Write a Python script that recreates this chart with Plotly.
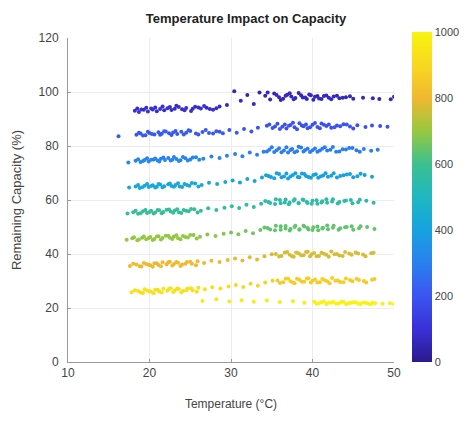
import plotly.graph_objects as go

# ---- data ----
# band A (~100 cycles)
tA = [18.2,18.7,19.3,19.8,20.4,20.9,21.3,21.8,22.2,22.7,23.1,23.6,24.0,24.5,25.1,25.6,26.3,27.0,27.8,28.6,
      29.5,30.4,31.2,32.0,32.8,33.5,34.2,34.8,35.3,35.9,36.4,36.9,37.4,37.9,38.3,38.8,39.3,39.8,40.3,40.8,
      41.4,42.0,42.6,43.3,44.1,45.0,46.2,49.6,50.0]
cA = [93.1,92.6,93.4,92.8,93.5,92.9,93.7,93.2,94.0,93.3,93.8,94.4,93.6,94.1,93.0,94.5,93.9,94.2,93.4,94.6,
      95.2,100.3,96.8,98.9,95.6,99.8,98.6,97.2,99.4,98.1,97.5,99.0,98.3,97.8,99.6,98.0,97.4,98.8,98.2,97.6,
      98.5,97.9,98.3,97.7,98.1,97.5,97.9,97.3,98.2]
nA = [85,95,80,100,90,85,95,80,100,90,85,95,80,100,90,85,95,80,90,85,
      70,60,75,55,70,50,
      60,70,55,65,60,70,55,65,60,70,55,65,60,70,55,65,60,70,55,65,60,70,60]
tA2 = [18.5,19.0,19.6,20.2,20.7,21.6,22.5,23.3,24.3,25.3,26.0,26.7,27.4,28.2,
       34.5,35.6,36.1,36.7,37.2,37.7,38.6,39.1,39.6,40.1,40.6,41.1,41.7,42.3,43.0,43.7,44.6,47.4,48.2]
cA2 = [93.9,93.5,94.2,93.9,94.3,94.6,94.4,94.9,93.2,93.8,94.3,94.8,93.7,94.0,
       99.8,98.9,97.0,98.6,99.5,97.3,98.8,98.0,99.1,97.1,98.5,97.4,98.7,97.3,98.6,97.9,98.4,97.7,97.4]
nA2 = [85,95,80,100,90,85,95,80,100,90,85,95,80,90,
       60,70,55,65,60,70,55,65,60,70,55,65,60,70,55,65,60,70,60]

# band B (~200 cycles)
tB = [16.2,18.4,18.9,19.5,20.0,20.6,21.1,21.5,22.0,22.4,22.9,23.4,23.9,24.5,25.0,25.7,26.5,27.3,28.2,29.0,
      29.8,30.7,31.6,32.5,33.3,34.4,35.1,35.7,36.3,36.8,37.3,37.8,38.4,38.9,39.4,40.0,40.6,41.1,41.7,42.3,
      43.0,43.8,44.6,45.5,46.5,48.3,49.2]
cB = [83.6,84.2,84.6,84.0,84.8,84.3,85.1,84.5,85.4,84.7,85.0,84.4,85.3,84.9,85.6,84.6,85.2,84.8,85.5,84.7,
      85.9,84.9,86.3,85.4,86.8,87.5,86.7,88.2,87.1,86.5,87.8,86.9,88.4,87.3,86.6,87.9,87.0,88.3,87.4,86.8,
      87.6,88.1,87.2,87.7,87.0,87.4,87.1]
nB = [215,205,220,200,215,210,225,205,215,200,220,210,215,205,220,210,215,205,220,210,
      205,210,200,205,195,
      190,200,185,195,190,200,185,195,190,200,185,195,190,200,185,195,190,200,185,195,190,200]
tB2 = [18.7,19.2,19.8,20.3,21.3,21.8,22.7,23.2,24.2,24.8,26.0,26.9,27.8,28.6,
       34.7,35.4,36.0,36.6,37.1,37.6,38.1,38.7,39.2,39.7,40.3,40.9,41.4,42.0,42.7,43.4,44.2,45.0,47.3]
cB2 = [84.9,83.9,85.3,84.4,84.2,85.5,84.1,85.6,84.3,85.8,84.3,85.9,84.6,85.3,
       88.0,87.2,86.3,88.0,87.5,88.6,86.2,87.6,88.0,86.9,88.5,86.6,87.9,88.0,86.9,87.3,88.0,86.5,87.6]
nB2 = [210,220,205,215,210,225,205,215,210,220,205,215,210,205,
       195,185,200,190,195,185,200,190,195,185,200,190,195,185,200,190,195,185,190]

# band C (~300 cycles)
tC = [17.4,18.3,18.9,19.4,19.9,20.5,21.0,21.4,21.9,22.3,22.8,23.3,23.8,24.4,25.0,25.7,26.6,27.6,28.6,29.5,
      30.5,31.4,32.3,33.2,34.0,34.7,35.3,35.9,36.5,37.0,37.5,38.1,38.6,39.1,39.7,40.3,40.9,41.5,42.2,42.9,
      43.7,44.5,45.4,46.3,47.2,48.0]
cC = [73.9,74.5,74.1,74.8,74.3,75.0,74.6,75.3,74.8,75.6,74.9,75.2,74.7,75.5,75.0,75.8,75.3,76.1,75.6,76.4,
      77.0,76.2,77.6,76.8,77.9,78.6,77.8,79.2,78.3,77.6,78.9,78.1,79.4,78.5,77.8,79.1,78.3,79.5,78.6,77.9,
      78.8,79.3,78.4,78.9,78.2,78.6]
nC = [320,310,325,305,320,310,330,305,320,310,325,305,320,310,325,315,320,310,320,315,
      305,310,300,305,300,
      295,285,300,290,295,285,300,290,295,285,300,290,295,285,300,290,295,285,300,290,295]
tC2 = [18.6,19.2,19.7,20.2,20.7,21.2,21.7,22.6,23.0,23.6,24.1,24.7,25.3,26.1,
       34.4,35.0,35.6,36.2,36.8,37.3,37.8,38.3,38.9,39.4,40.0,40.6,41.2,41.8,42.5,43.3,44.1,44.9,45.8]
cC2 = [75.1,74.4,75.5,74.9,75.4,74.3,75.7,74.6,75.9,74.4,75.9,74.6,75.7,74.9,
       78.0,79.5,78.4,77.7,79.5,78.5,77.7,79.7,78.0,79.0,78.4,77.9,79.0,78.3,79.6,78.0,78.7,79.3,77.9]
nC2 = [315,325,310,320,315,330,310,320,315,325,310,320,315,320,
       295,285,300,290,295,285,300,290,295,285,300,290,295,285,300,290,295,285,290]

# band D (~420 cycles)
tD = [17.5,18.3,18.8,19.4,19.9,20.4,20.9,21.3,21.8,22.3,22.7,23.2,23.7,24.3,24.9,25.6,26.4,27.3,28.3,29.3,
      30.2,31.1,32.0,32.9,33.8,34.6,35.3,35.9,36.5,37.0,37.6,38.2,38.7,39.2,39.8,40.4,41.0,41.6,42.3,43.0,
      43.8,44.6,45.5,46.4,47.3]
cD = [64.6,65.0,64.4,65.3,64.8,65.5,64.9,65.7,65.1,65.8,65.2,65.6,65.0,65.9,65.3,66.1,65.6,66.4,65.9,66.7,
      67.2,66.5,67.8,67.0,68.3,68.9,68.1,69.6,68.7,68.0,69.3,68.5,69.8,68.9,68.2,69.5,68.7,69.9,69.0,68.3,
      69.2,69.6,68.8,69.3,68.6]
nD = [430,420,435,415,430,420,440,415,430,420,435,415,430,420,435,425,430,420,430,425,
      415,420,410,415,405,
      400,410,395,405,400,410,395,405,400,410,395,405,400,410,395,405,400,410,395,405]
tD2 = [18.6,19.1,19.7,20.2,20.7,21.1,21.6,22.5,23.0,23.5,24.0,24.6,25.2,26.0,
       34.3,34.9,35.6,36.2,36.8,37.3,37.9,38.4,39.0,39.5,40.1,40.7,41.3,41.9,42.6,43.4,44.2,45.0,45.9]
cD2 = [65.6,64.7,65.9,65.2,64.6,65.9,64.7,66.1,64.9,66.2,64.8,65.6,66.3,65.0,
       69.2,68.5,69.9,68.4,69.8,68.7,69.9,68.4,69.6,68.5,69.3,68.2,69.1,68.6,69.9,68.9,69.4,68.4,69.7]
nD2 = [425,435,420,430,425,440,420,430,425,435,420,430,425,430,
       405,395,410,400,405,395,410,400,405,395,410,400,405,395,410,400,405,395,400]

# band E (~560 cycles)
tE = [17.3,18.0,18.6,19.2,19.7,20.2,20.7,21.2,21.7,22.1,22.6,23.1,23.6,24.2,24.8,25.5,26.3,27.2,28.2,29.2,
      30.1,31.0,31.9,32.8,33.7,34.6,35.4,36.0,36.6,37.1,37.7,38.3,38.8,39.3,39.9,40.5,41.1,41.7,42.4,43.1,
      43.9,44.7,45.6,46.6,47.5]
cE = [55.0,55.5,54.9,55.8,55.2,56.0,55.4,56.2,55.6,56.4,55.7,56.1,55.5,56.3,55.8,56.6,56.0,56.9,56.3,57.1,
      57.7,57.0,58.2,57.4,58.6,59.3,58.5,60.0,59.1,58.4,59.7,58.9,60.2,59.3,58.6,59.9,59.1,60.3,59.4,58.7,
      59.6,60.0,59.2,59.7,59.0]
nE = [580,570,585,565,580,570,590,565,580,570,585,565,580,570,585,575,580,570,575,570,
      565,570,560,565,555,
      545,555,540,550,545,555,540,550,545,555,540,550,545,555,540,550,545,555,540,550]
tE2 = [18.3,18.9,19.5,20.0,20.5,21.0,21.5,22.4,22.9,23.4,23.9,24.5,25.1,25.9,
       34.2,34.8,35.5,36.1,36.7,37.2,37.8,38.3,38.9,39.4,40.0,40.6,41.2,41.8,42.5,43.3,44.1,44.9,45.8]
cE2 = [56.0,55.1,56.3,55.6,55.0,56.3,55.1,56.5,55.3,56.6,55.2,56.0,56.7,55.4,
       59.6,58.9,60.3,58.8,60.2,59.1,60.3,58.8,60.0,58.9,59.7,58.6,59.5,59.0,60.3,59.3,59.8,58.8,60.1]
nE2 = [575,585,570,580,575,590,570,580,575,585,570,580,575,580,
       555,545,560,550,555,545,560,550,555,545,560,550,555,545,560,550,555,545,550]

# band F (~680 cycles)
tF = [17.2,17.9,18.5,19.1,19.6,20.1,20.6,21.1,21.6,22.0,22.5,23.0,23.5,24.1,24.7,25.4,26.2,27.1,28.1,29.1,
      30.0,30.9,31.8,32.7,33.6,34.5,35.4,36.1,36.7,37.2,37.8,38.4,38.9,39.4,40.0,40.6,41.2,41.8,42.5,43.2,
      44.0,44.8,45.7,46.7,47.6]
cF = [45.3,45.8,45.1,46.0,45.5,46.3,45.6,46.6,45.9,46.8,46.0,46.5,45.8,46.7,46.1,47.0,46.4,47.2,46.7,47.5,
      48.0,47.3,48.5,47.7,48.9,49.6,48.8,50.3,49.4,48.7,50.0,49.2,50.5,49.6,48.9,50.2,49.4,50.6,49.7,49.0,
      49.9,50.3,49.5,50.0,49.3]
nF = [700,690,705,685,700,690,710,685,700,690,705,685,700,690,700,685,695,685,690,680,
      670,675,660,665,655,
      640,650,635,645,640,650,635,645,640,650,635,645,640,650,635,645,640,650,635,645]
tF2 = [18.1,18.7,19.3,19.9,20.4,20.9,21.4,22.3,22.8,23.3,23.8,24.4,25.0,25.8,
       34.1,34.8,35.5,36.1,36.7,37.3,37.9,38.4,39.0,39.5,40.1,40.7,41.3,41.9,42.6,43.4,44.2,45.0,45.9]
cF2 = [46.2,45.4,46.5,45.9,45.2,46.5,45.4,46.8,45.6,46.9,45.5,46.3,47.0,45.7,
       49.8,49.1,50.5,49.0,50.4,49.3,50.5,49.0,50.2,49.1,49.9,48.8,49.7,49.2,50.5,49.5,50.0,49.0,50.3]
nF2 = [695,705,690,700,695,710,690,700,695,705,690,700,695,700,
       645,635,650,640,645,635,650,640,645,635,650,640,645,635,650,640,645,635,640]

# band G (~790 cycles)
tG = [17.6,18.4,19.0,19.6,20.1,20.6,21.1,21.6,22.1,22.5,23.0,23.5,24.0,24.6,25.2,25.9,26.7,27.6,28.6,29.6,
      30.5,31.4,32.3,33.2,34.1,35.0,35.9,36.6,37.2,37.7,38.3,38.9,39.4,39.9,40.5,41.1,41.7,42.3,43.0,43.7,
      44.5,45.3,46.2,47.2]
cG = [35.6,36.1,35.4,36.3,35.8,36.6,35.9,36.9,36.2,37.1,36.3,36.8,36.1,37.0,36.4,37.3,36.7,37.5,37.0,37.8,
      38.3,37.6,38.8,38.0,39.2,39.9,39.1,40.6,39.7,39.0,40.3,39.5,40.8,39.9,39.2,40.5,39.7,40.9,40.0,39.3,
      40.2,40.6,39.8,40.3]
nG = [800,810,795,815,800,810,790,815,800,810,795,815,800,805,795,800,790,795,785,790,
      785,790,780,785,775,
      770,780,765,775,770,780,765,775,770,780,765,775,770,780,765,775,770,780,770]
tG2 = [18.0,18.8,19.3,19.9,20.4,20.9,21.4,22.3,22.8,23.3,23.8,24.4,25.0,25.7,
       35.5,36.2,36.9,37.5,38.0,38.6,39.2,39.7,40.2,40.8,41.4,42.0,42.7,43.3,44.0,44.8,45.6,46.5,47.5]
cG2 = [36.4,35.5,36.7,36.0,35.3,36.6,35.5,36.9,35.7,37.0,35.6,36.4,37.1,35.8,
       40.0,39.3,40.7,39.2,40.6,39.5,40.7,39.2,40.4,39.3,40.1,39.0,39.9,39.4,40.7,39.7,40.2,39.2,40.5]
nG2 = [805,795,810,800,805,790,810,800,805,795,810,800,805,800,
       775,765,780,770,775,765,780,770,775,765,780,770,775,765,780,770,775,765,770]

# band H (~900 cycles)
tH = [17.8,18.6,19.2,19.7,20.2,20.7,21.2,21.7,22.2,22.6,23.1,23.6,24.1,24.7,25.3,26.0,26.8,27.7,28.7,29.7,
      30.6,31.5,32.4,33.3,34.2,35.1,36.0,36.7,37.3,37.8,38.4,39.0,39.5,40.0,40.6,41.2,41.8,42.4,43.1,43.8,
      44.6,45.4,46.3,47.3]
cH = [25.8,26.3,25.6,26.5,26.0,26.8,26.1,27.1,26.4,27.3,26.5,27.0,26.3,27.2,26.6,27.5,26.9,27.7,27.2,28.0,
      28.5,27.8,29.0,28.2,29.4,30.1,29.3,30.8,29.9,29.2,30.5,29.7,31.0,30.1,29.4,30.7,29.9,31.1,30.2,29.5,
      30.4,30.8,30.0,30.5]
nH = [930,940,925,945,930,940,920,945,930,940,925,945,930,935,925,930,920,925,915,920,
      900,905,890,895,880,
      870,860,875,865,870,860,875,865,870,860,875,865,870,860,875,865,870,860,865]
tH2 = [18.2,18.9,19.4,20.0,20.5,21.0,21.5,22.4,22.9,23.4,23.9,24.5,25.1,25.8,
       35.7,36.4,37.0,37.6,38.1,38.7,39.3,39.8,40.3,40.9,41.5,42.1,42.8,43.4,44.1,44.9,45.7,46.6,47.6]
cH2 = [26.6,25.7,26.9,26.2,25.5,26.8,25.7,27.1,25.9,27.2,25.8,26.6,27.3,26.0,
       30.2,29.5,30.9,29.4,30.8,29.7,30.9,29.4,30.6,29.5,30.3,29.2,30.1,29.6,30.9,29.9,30.4,29.4,30.7]
nH2 = [935,925,940,930,935,920,940,930,935,925,940,930,935,930,
       865,855,870,860,865,855,870,860,865,855,870,860,865,855,870,860,865,855,860]

# band I (~1000 cycles)
tI = [26.5,28.2,29.8,31.3,32.8,34.4,36.0,37.6,39.0,40.2,40.8,41.4,42.0,42.6,43.2,43.8,44.4,45.0,45.6,46.2,
      46.8,47.4,48.6,49.5,50.0]
cI = [22.6,23.2,22.4,22.9,22.3,22.8,22.2,22.5,21.9,22.3,21.8,22.4,21.9,22.2,21.7,22.3,21.8,22.1,21.6,22.0,
      21.7,21.9,21.6,21.8,21.5]
nI = [960,965,960,970,965,975,970,980,985,990,995,990,995,1000,995,990,1000,995,1000,995,
      1000,995,990,985,990]
tI2 = [40.5,41.1,41.7,42.3,42.9,43.5,44.1,44.7,45.3,45.9,46.5,47.1,47.7]
cI2 = [21.6,22.1,21.5,22.0,21.6,22.2,21.5,21.9,22.1,21.5,21.9,21.4,21.8]
nI2 = [995,1000,990,1000,995,1000,990,995,1000,995,990,1000,995]

temps = tA + tA2 + tB + tB2 + tC + tC2 + tD + tD2 + tE + tE2 + tF + tF2 + tG + tG2 + tH + tH2 + tI + tI2
caps = cA + cA2 + cB + cB2 + cC + cC2 + cD + cD2 + cE + cE2 + cF + cF2 + cG + cG2 + cH + cH2 + cI + cI2
cycles = nA + nA2 + nB + nB2 + nC + nC2 + nD + nD2 + nE + nE2 + nF + nF2 + nG + nG2 + nH + nH2 + nI + nI2

parula = [
    [0.0, "#2a1a8c"], [0.1, "#3a30d8"], [0.2, "#3b55f0"], [0.3, "#2a80f0"],
    [0.4, "#16a2e0"], [0.5, "#1fb8c0"], [0.6, "#3cc090"], [0.7, "#98c840"],
    [0.8, "#f0b830"], [0.9, "#f8d820"], [1.0, "#f8f410"],
]

fig = go.Figure()
fig.add_trace(go.Scatter(
    x=temps, y=caps, mode="markers",
    marker=dict(
        size=4, color=cycles, colorscale=parula, cmin=0, cmax=1000,
        line=dict(width=0),
        colorbar=dict(
            x=1.055, xanchor="left", thickness=20, xpad=0, ypad=0,
            lenmode="pixels", len=330, y=1.0185, yanchor="top",
            outlinewidth=0, tickvals=[0, 200, 400, 600, 800, 1000],
            tickfont=dict(family="Liberation Sans, Arial", size=11, color="#444"),
            ticks="",
        ),
    ),
    showlegend=False,
))

axis_common = dict(
    showgrid=True, gridcolor="#ececec", gridwidth=1,
    showline=True, linecolor="#9a9a9a", linewidth=1,
    ticks="inside", ticklen=3, tickcolor="#9a9a9a",
    zeroline=False, mirror=False, automargin=False,
    tickfont=dict(family="Liberation Sans, Arial", size=12, color="#444"),
)

fig.update_layout(
    width=469, height=421,
    margin=dict(l=68, r=75, t=38, b=59, autoexpand=False),
    paper_bgcolor="white", plot_bgcolor="white",
    title=dict(
        text="<b>Temperature Impact on Capacity</b>",
        x=246 / 469, xanchor="center", y=1 - 18 / 421, yanchor="middle",
        font=dict(family="Liberation Sans, Arial", size=13, color="#222"),
    ),
    xaxis=dict(range=[10, 50], tickvals=[10, 20, 30, 40, 50],
               title=dict(text="Temperature (°C)", standoff=20,
                          font=dict(family="Liberation Sans, Arial", size=12, color="#444")),
               **axis_common),
    yaxis=dict(range=[0, 120], tickvals=[0, 20, 40, 60, 80, 100, 120],
               ticklabelstandoff=6,
               title=dict(text="Remaining Capacity (%)", standoff=14,
                          font=dict(family="Liberation Sans, Arial", size=13, color="#444")),
               **axis_common),
)

fig.write_html(
    "out.html",
    config={"displayModeBar": False},
    post_script="document.body.style.margin='0';document.body.style.overflow='hidden';",
)
